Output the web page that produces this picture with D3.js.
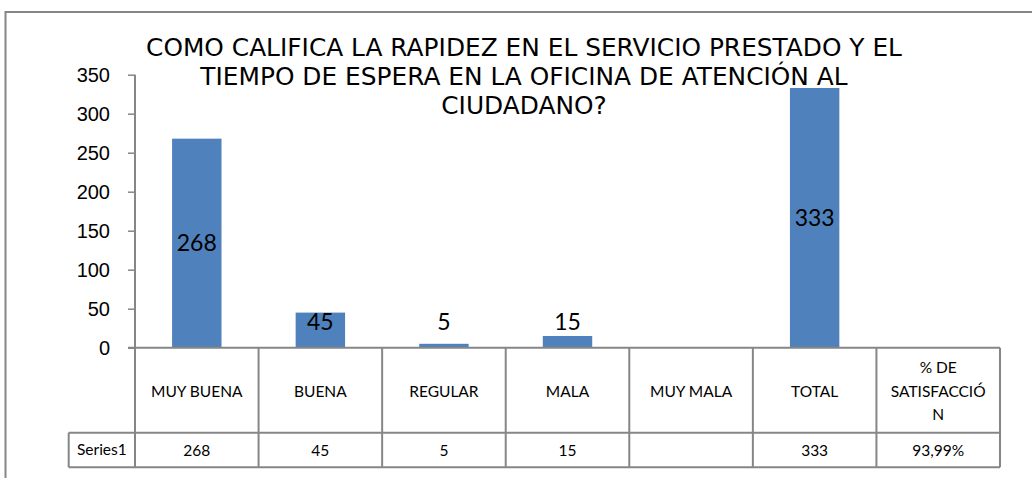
<!DOCTYPE html>
<html>
<head>
<meta charset="utf-8">
<script src="https://cdn.jsdelivr.net/npm/d3@7"></script>
<style>
  body { margin: 0; background: #fff; }
  svg { display: block; }
</style>
</head>
<body>
<div id="chart"></div>
<script>
// 1: DATA
const categories = ["MUY BUENA", "BUENA", "REGULAR", "MALA", "MUY MALA", "TOTAL", "% DE SATISFACCIÓN"];
const headerLines = [["MUY BUENA"], ["BUENA"], ["REGULAR"], ["MALA"], ["MUY MALA"], ["TOTAL"], ["% DE", "SATISFACCIÓ", "N"]];
const values = [268, 45, 5, 15, null, 333, null];
const tableValues = ["268", "45", "5", "15", "", "333", "93,99%"];
const seriesName = "Series1";
const yTicks = [0, 50, 100, 150, 200, 250, 300, 350];
const titleLines = [
    "COMO CALIFICA LA RAPIDEZ EN EL SERVICIO PRESTADO Y EL",
    "TIEMPO DE ESPERA EN LA OFICINA DE ATENCIÓN AL",
    "CIUDADANO?"
];

// 2: LAYOUT
const W = 1032, H = 478;
const plot = { left: 135, right: 1000, top: 74.7, bottom: 347.7 };
const row1 = 432.7, row2 = 467.3, seriesLeft = 68.7;
const gray = "#868686";
const barColor = "#4F81BD";

const svg = d3.select("#chart")
    .append("svg")
    .attr("width", W)
    .attr("height", H);

// outer chart border (cut off at right and bottom)
svg.append("path")
    .attr("d", `M5.5,${H} V12 H${W}`)
    .attr("fill", "none")
    .attr("stroke", gray)
    .attr("stroke-width", 2);

// 3: SCALES
const xScale = d3.scaleBand()
    .domain(categories)
    .range([plot.left, plot.right])
    .padding(0);

const yScale = d3.scaleLinear()
    .domain([0, 350])
    .range([plot.bottom, plot.top]);

const step = xScale.step();
const barW = step / 2.5;

// 4: TITLE
const title = svg.append("g")
    .selectAll("text")
    .data(titleLines)
    .join("text")
    .attr("x", 524)
    .attr("y", (d, i) => 56 + i * 29)
    .attr("text-anchor", "middle")
    .style("font-family", "DejaVu Sans, Verdana, sans-serif")
    .style("font-size", "20px")
    .attr("fill", "#000")
    .text(d => d);

// size the title so the first line spans about as wide as the original
const firstLen = title.node().getComputedTextLength();
title.style("font-size", (20 * 756 / firstLen) + "px");

// 5: BARS
const barData = categories.map((c, i) => ({ c, v: values[i] })).filter(d => d.v != null);

svg.append("g")
    .selectAll("rect")
    .data(barData)
    .join("rect")
    .attr("x", d => xScale(d.c) + (step - barW) / 2)
    .attr("y", d => yScale(d.v))
    .attr("width", barW)
    .attr("height", d => yScale(0) - yScale(d.v))
    .attr("fill", barColor);

// data labels, centred in bar but kept above the axis
svg.append("g")
    .selectAll("text")
    .data(barData)
    .join("text")
    .attr("x", d => xScale(d.c) + step / 2)
    .attr("y", d => Math.min((yScale(d.v) + yScale(0)) / 2, yScale(0) - 26))
    .attr("dy", "0.36em")
    .attr("text-anchor", "middle")
    .style("font-family", "Lato, sans-serif")
    .style("font-size", "23px")
    .attr("fill", "#000")
    .text(d => d.v);

// 6: Y AXIS
const yAxis = svg.append("g")
    .attr("transform", `translate(${plot.left},0)`)
    .call(d3.axisLeft(yScale).tickValues(yTicks).tickSize(7).tickPadding(18));

yAxis.select(".domain").remove();
yAxis.selectAll("line").attr("stroke", gray).attr("stroke-width", 1.5);
yAxis.selectAll("text")
    .style("font-family", "Liberation Sans, Arial, sans-serif")
    .style("font-size", "20px")
    .attr("fill", "#000");

// 7: DATA TABLE
const grid = svg.append("g")
    .attr("stroke", gray)
    .attr("stroke-width", 2)
    .attr("fill", "none");

// vertical axis line continues as table left edge
grid.append("line")
    .attr("x1", plot.left).attr("x2", plot.left)
    .attr("y1", plot.top).attr("y2", row2);

// column separators
grid.selectAll(".col")
    .data(categories)
    .join("line")
    .attr("class", "col")
    .attr("x1", d => xScale(d) + step).attr("x2", d => xScale(d) + step)
    .attr("y1", plot.bottom).attr("y2", row2);

// horizontal lines
grid.append("line").attr("x1", plot.left - 7).attr("x2", plot.right).attr("y1", plot.bottom).attr("y2", plot.bottom);
grid.append("line").attr("x1", seriesLeft).attr("x2", plot.right).attr("y1", row1).attr("y2", row1);
grid.append("line").attr("x1", seriesLeft).attr("x2", plot.right).attr("y1", row2).attr("y2", row2);
grid.append("line").attr("x1", seriesLeft).attr("x2", seriesLeft).attr("y1", row1).attr("y2", row2);

const tableFont = "Lato, sans-serif";

// header labels
const headers = svg.append("g")
    .selectAll("g")
    .data(categories.map((c, i) => ({ c, lines: headerLines[i] })))
    .join("g");

headers.selectAll("text")
    .data(d => d.lines.map((t, j) => ({ t, j, n: d.lines.length, c: d.c })))
    .join("text")
    .attr("x", d => xScale(d.c) + step / 2)
    .attr("y", d => (plot.bottom + row1) / 2 + 1 + (d.j - (d.n - 1) / 2) * 23.5)
    .attr("dy", "0.35em")
    .attr("text-anchor", "middle")
    .style("font-family", tableFont)
    .style("font-size", "15.5px")
    .attr("fill", "#000")
    .text(d => d.t);

// values row
svg.append("g")
    .selectAll("text")
    .data(categories.map((c, i) => ({ c, t: tableValues[i] })))
    .join("text")
    .attr("x", d => xScale(d.c) + step / 2)
    .attr("y", (row1 + row2) / 2 + 1)
    .attr("dy", "0.35em")
    .attr("text-anchor", "middle")
    .style("font-family", tableFont)
    .style("font-size", "15.5px")
    .attr("fill", "#000")
    .text(d => d.t);

svg.append("text")
    .attr("x", (seriesLeft + plot.left) / 2)
    .attr("y", (row1 + row2) / 2)
    .attr("dy", "0.35em")
    .attr("text-anchor", "middle")
    .style("font-family", tableFont)
    .style("font-size", "15.5px")
    .attr("fill", "#000")
    .text(seriesName);
</script>
</body>
</html>
